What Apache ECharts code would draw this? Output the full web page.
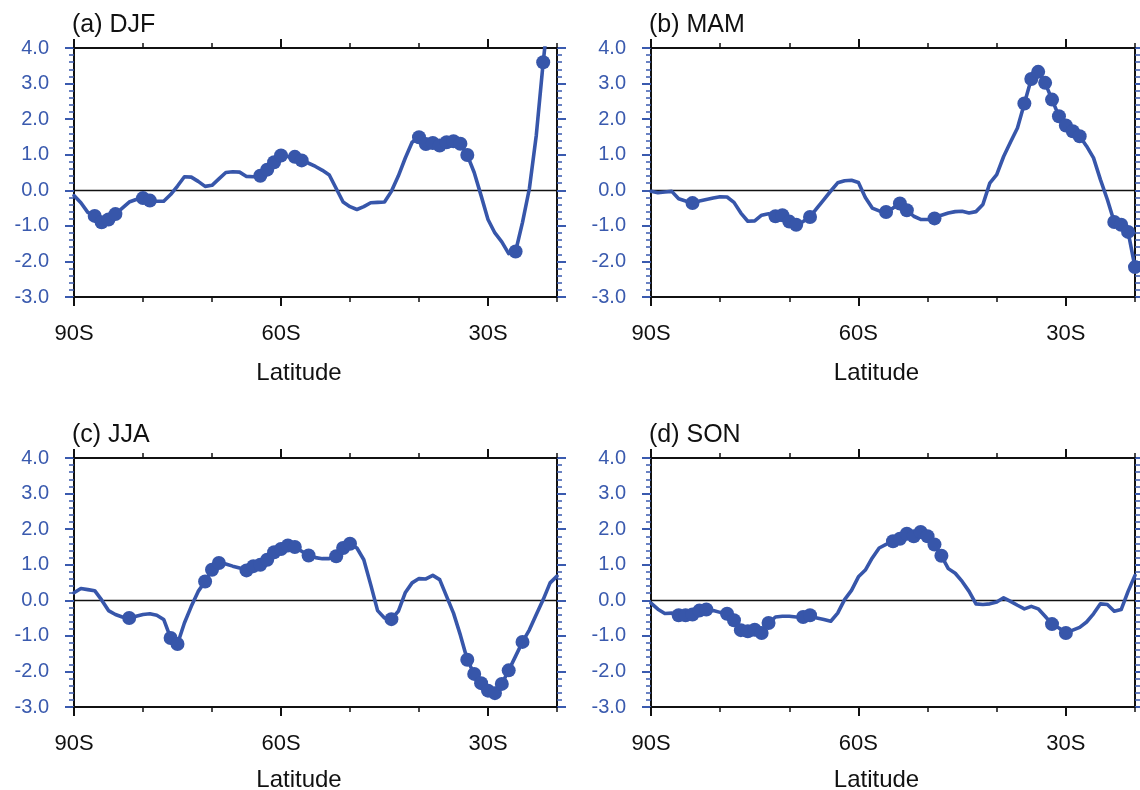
<!DOCTYPE html>
<html>
<head>
<meta charset="utf-8">
<script src="https://cdn.jsdelivr.net/npm/echarts@6/dist/echarts.min.js"></script>
<style>
  html, body { margin: 0; padding: 0; background: #ffffff; }
  #chart { width: 1140px; height: 790px; }
</style>
</head>
<body>
<div id="chart"></div>
<script>
// Latitude grid, 90S to 20S in 1-degree steps
const latitudes = [
  -90, -89, -88, -87, -86, -85, -84, -83, -82, -81,
  -80, -79, -78, -77, -76, -75, -74, -73, -72, -71,
  -70, -69, -68, -67, -66, -65, -64, -63, -62, -61,
  -60, -59, -58, -57, -56, -55, -54, -53, -52, -51,
  -50, -49, -48, -47, -46, -45, -44, -43, -42, -41,
  -40, -39, -38, -37, -36, -35, -34, -33, -32, -31,
  -30, -29, -28, -27, -26, -25, -24, -23, -22, -21, -20
];

// Zonal-mean anomaly per season
const djfValues = [
  -0.15, -0.35, -0.62, -0.72, -0.90, -0.82, -0.67, -0.50, -0.33, -0.26,
  -0.22, -0.29, -0.31, -0.31, -0.12, 0.12, 0.38, 0.37, 0.25, 0.11,
  0.14, 0.32, 0.50, 0.52, 0.51, 0.39, 0.38, 0.41, 0.58, 0.79,
  0.98, 0.95, 0.94, 0.84, 0.76, 0.67, 0.56, 0.43, 0.05, -0.33,
  -0.46, -0.54, -0.46, -0.35, -0.34, -0.33, -0.03, 0.40, 0.90, 1.35,
  1.49, 1.30, 1.33, 1.26, 1.35, 1.38, 1.31, 0.99, 0.50, -0.15,
  -0.82, -1.20, -1.45, -1.78, -1.72, -0.90, 0.05, 1.55, 3.60, 5.40, 6.60
];
const mamValues = [
  -0.03, -0.07, -0.05, -0.03, -0.24, -0.30, -0.36, -0.30, -0.26, -0.22,
  -0.18, -0.19, -0.34, -0.64, -0.87, -0.86, -0.70, -0.66, -0.73, -0.70,
  -0.88, -0.97, -0.88, -0.75, -0.50, -0.26, -0.02, 0.21, 0.27, 0.28,
  0.22, -0.20, -0.50, -0.58, -0.61, -0.50, -0.37, -0.56, -0.73, -0.82,
  -0.82, -0.79, -0.70, -0.64, -0.60, -0.59, -0.64, -0.60, -0.40, 0.20,
  0.44, 0.95, 1.36, 1.75, 2.44, 3.13, 3.33, 3.02, 2.55, 2.08,
  1.82, 1.66, 1.52, 1.24, 0.91, 0.30, -0.26, -0.89, -0.97, -1.17, -2.16
];
const jjaValues = [
  0.21, 0.33, 0.30, 0.27, 0.01, -0.29, -0.40, -0.47, -0.50, -0.45,
  -0.40, -0.38, -0.42, -0.54, -1.06, -1.23, -0.64, -0.17, 0.25, 0.53,
  0.86, 1.05, 1.02, 0.96, 0.91, 0.84, 0.96, 1.00, 1.14, 1.35,
  1.44, 1.54, 1.50, 1.38, 1.26, 1.20, 1.17, 1.17, 1.24, 1.47,
  1.59, 1.47, 1.14, 0.44, -0.29, -0.50, -0.53, -0.31, 0.21, 0.49,
  0.61, 0.60, 0.70, 0.58, 0.11, -0.36, -0.98, -1.67, -2.07, -2.33,
  -2.54, -2.61, -2.35, -1.97, -1.57, -1.17, -0.83, -0.40, 0.02, 0.49, 0.68
];
const sonValues = [
  -0.08, -0.25, -0.37, -0.36, -0.42, -0.42, -0.40, -0.29, -0.26, -0.29,
  -0.34, -0.38, -0.56, -0.84, -0.87, -0.83, -0.92, -0.64, -0.47, -0.45,
  -0.45, -0.47, -0.47, -0.42, -0.50, -0.54, -0.59, -0.36, 0.02, 0.28,
  0.66, 0.85, 1.19, 1.47, 1.57, 1.66, 1.73, 1.87, 1.80, 1.92,
  1.80, 1.57, 1.25, 0.89, 0.76, 0.53, 0.25, -0.10, -0.12, -0.10,
  -0.05, 0.07, -0.03, -0.14, -0.24, -0.17, -0.24, -0.45, -0.67, -0.78,
  -0.92, -0.84, -0.76, -0.61, -0.38, -0.10, -0.12, -0.31, -0.26, 0.25, 0.70
];

// Latitudes where the anomaly is statistically significant (dots)
const djfSignificant = [-87, -86, -85, -84, -80, -79, -63, -62, -61, -60, -58, -57,
  -40, -39, -38, -37, -36, -35, -34, -33, -26, -22];
const mamSignificant = [-84, -72, -71, -70, -69, -67, -56, -54, -53, -49,
  -36, -35, -34, -33, -32, -31, -30, -29, -28, -23, -22, -21, -20];
const jjaSignificant = [-82, -76, -75, -71, -70, -69, -65, -64, -63, -62, -61, -60, -59, -58,
  -56, -52, -51, -50, -44, -33, -32, -31, -30, -29, -28, -27, -25];
const sonSignificant = [-86, -85, -84, -83, -82, -79, -78, -77, -76, -75, -74, -73,
  -68, -67, -55, -54, -53, -52, -51, -50, -49, -48, -32, -30];

// Axis ticks and labels
const xMajorTicks = [-90, -60, -30];
const xMajorLabels = ['90S', '60S', '30S'];
const xMinorTicks = [-80, -70, -50, -40, -20];
const panelTitles = ['(a) DJF', '(b) MAM', '(c) JJA', '(d) SON'];
const xAxisTitle = 'Latitude';

const seasons = [
  { values: djfValues, significant: djfSignificant },
  { values: mamValues, significant: mamSignificant },
  { values: jjaValues, significant: jjaSignificant },
  { values: sonValues, significant: sonSignificant }
];

const FONT = '"Liberation Sans", Arial, Helvetica, sans-serif';
const LINE_BLUE = '#3756aa';
const LABEL_BLUE = '#3a5aae';

const panelBoxes = [
  { left: 74, top: 48, width: 483, height: 249 },
  { left: 651, top: 48, width: 484, height: 249 },
  { left: 74, top: 458, width: 483, height: 249 },
  { left: 651, top: 458, width: 484, height: 249 }
];

const grids = [], xAxes = [], yAxes = [], series = [], titles = [];

panelBoxes.forEach((box, i) => {
  grids.push(Object.assign({ outerBoundsMode: 'none', containLabel: false }, box));

  titles.push({
    text: panelTitles[i],
    left: box.left - 2,
    top: box.top - 35,
    padding: 0,
    textStyle: { fontFamily: FONT, fontSize: 25, fontWeight: 'normal', color: '#111' }
  });

  const xBase = { type: 'value', gridIndex: i, min: -90, max: -20, splitLine: { show: false } };
  const frameLine = { show: true, onZero: false, lineStyle: { color: '#111', width: 2 } };
  const noLine = { show: false, onZero: false };

  // bottom axis: major ticks + labels + title
  xAxes.push(Object.assign({}, xBase, {
    position: 'bottom',
    axisLine: frameLine,
    axisTick: { show: true, customValues: xMajorTicks, length: 9, lineStyle: { color: '#111', width: 2 } },
    axisLabel: {
      show: true, customValues: xMajorTicks, margin: 26,
      formatter: v => xMajorLabels[xMajorTicks.indexOf(v)] || '',
      fontFamily: FONT, fontSize: 22, color: '#111'
    },
    name: xAxisTitle, nameLocation: 'middle', nameGap: i < 2 ? 64 : 61,
    nameTextStyle: { fontFamily: FONT, fontSize: 24, color: '#111', padding: [0, 33, 0, 0] }
  }));
  // bottom axis: minor ticks
  xAxes.push(Object.assign({}, xBase, {
    position: 'bottom',
    axisLine: noLine,
    axisTick: { show: true, customValues: xMinorTicks, length: 5, lineStyle: { color: '#111', width: 1.5 } },
    axisLabel: { show: false }
  }));
  // top axis: major ticks
  xAxes.push(Object.assign({}, xBase, {
    position: 'top',
    axisLine: frameLine,
    axisTick: { show: true, customValues: xMajorTicks, length: 9, lineStyle: { color: '#111', width: 2 } },
    axisLabel: { show: false }
  }));
  // top axis: minor ticks
  xAxes.push(Object.assign({}, xBase, {
    position: 'top',
    axisLine: noLine,
    axisTick: { show: true, customValues: xMinorTicks, length: 5, lineStyle: { color: '#111', width: 1.5 } },
    axisLabel: { show: false }
  }));

  const yBase = {
    type: 'value', gridIndex: i, min: -3, max: 4, interval: 1,
    axisLine: frameLine,
    axisTick: { show: true, length: 9, lineStyle: { color: LABEL_BLUE, width: 2 } },
    minorTick: { show: true, splitNumber: 5, length: 5, lineStyle: { color: LABEL_BLUE, width: 1.5 } },
    splitLine: { show: false },
    minorSplitLine: { show: false }
  };
  yAxes.push(Object.assign({}, yBase, {
    position: 'left',
    axisLabel: {
      show: true, margin: 25, formatter: v => v.toFixed(1),
      fontFamily: FONT, fontSize: 20, color: LABEL_BLUE
    }
  }));
  yAxes.push(Object.assign({}, yBase, { position: 'right', axisLabel: { show: false } }));

  const s = seasons[i];
  const lineData = latitudes.map((lat, k) => [lat, s.values[k]]);
  const dotData = s.significant.map(lat => [lat, s.values[latitudes.indexOf(lat)]]);

  series.push({
    type: 'line', xAxisIndex: i * 4, yAxisIndex: i * 2,
    data: lineData, showSymbol: false, symbol: 'none', smooth: false,
    lineStyle: { color: LINE_BLUE, width: 3.6, join: 'round', cap: 'round' }, z: 3, silent: true,
    markLine: {
      z: 1, silent: true, symbol: ['none', 'none'], label: { show: false },
      lineStyle: { color: '#111', width: 1.3, type: 'solid' },
      data: [{ yAxis: 0 }], animation: false
    }
  });
  series.push({
    type: 'scatter', xAxisIndex: i * 4, yAxisIndex: i * 2,
    data: dotData, symbol: 'circle', symbolSize: 14,
    itemStyle: { color: LINE_BLUE, opacity: 1 }, z: 4, silent: true
  });
});

const chart = echarts.init(document.getElementById('chart'), null, { renderer: 'canvas' });
chart.setOption({
  backgroundColor: '#ffffff',
  animation: false,
  textStyle: { fontFamily: FONT },
  title: titles,
  grid: grids,
  xAxis: xAxes,
  yAxis: yAxes,
  series: series
});
</script>
</body>
</html>
